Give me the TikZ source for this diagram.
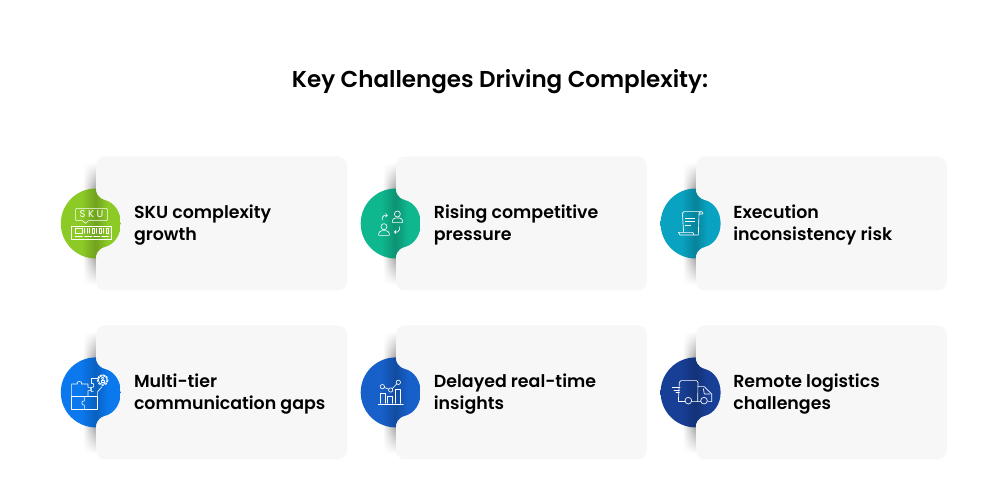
\documentclass[tikz,border=0pt]{standalone}
\usepackage{fontspec}
\setmainfont{Poppins}[BoldFont=Poppins SemiBold]
\usetikzlibrary{chains, calc, positioning, fadings}
\definecolor{cardgrey}{HTML}{F7F7F7}
\definecolor{skugreen}{HTML}{8CCB26}
\definecolor{riseteal}{HTML}{0FB78F}
\definecolor{execcyan}{HTML}{09A3C1}
\definecolor{tierblue}{HTML}{0B78EE}
\definecolor{delayblue}{HTML}{175FC9}
\definecolor{roadnavy}{HTML}{183F96}
\colorlet{tabcolor}{skugreen}
\pgfdeclarehorizontalshading{bandshade}{100bp}{color(0bp)=(white); color(25bp)=(white); color(75bp)=(black!42); color(100bp)=(black!42)}
\pgfdeclarehorizontalshading[tabcolor]{tabshade}{100bp}{color(0bp)=(tabcolor); color(25bp)=(tabcolor); color(42bp)=(tabcolor); color(54bp)=(tabcolor!80!black); color(64bp)=(tabcolor); color(100bp)=(tabcolor)}
\tikzstyle{card} = [rectangle, fill=cardgrey, rounded corners=9pt, minimum width=251pt, minimum height=134pt, inner sep=0pt, on chain]
\tikzstyle{cardtext} = [anchor=west, align=left, inner sep=0pt, font=\fontsize{17.4}{22}\selectfont\bfseries, text=black]
\tikzstyle{icon} = [draw=white, line width=0.65pt, line cap=round, line join=round, fill=none]
\tikzstyle{iconletter} = [text=white, inner sep=0pt, font=\fontsize{10}{10}\selectfont]
% tab with the dark band along the card edge, origin on the west side of a card
\tikzset{
  tab/.pic={
    \colorlet{tabcolor}{#1}
    \shade[shading=bandshade, shading angle=0, path fading=north] (-13,30) rectangle (0,61);
    \shade[shading=bandshade, shading angle=0, path fading=south] (-13,-61) rectangle (0,-30);
    \shade[shading=tabshade, shading angle=0] (0,-35) arc[start angle=-90, delta angle=-180, radius=35]
      .. controls (0,31) and (2,25.5) .. (9,23.5)
      .. controls (19,21) and (25,11) .. (25,0)
      .. controls (25,-11) and (19,-21) .. (9,-23.5)
      .. controls (2,-25.5) and (0,-31) .. (0,-35) -- cycle;
  }
}
\begin{document}
\begin{tikzpicture}[x=1pt,y=1pt,start chain=going right,node distance=48.5pt]
\useasboundingbox (0,0) rectangle (1000,500);
\node[font=\fontsize{23}{28}\selectfont\bfseries, anchor=base] (title) at (500,412) {Key Challenges Driving Complexity:};

\node[card] (sku) at (221.5,276.5) {};
\node[card] (rise) {};
\node[card] (exec) {};
\node[card, below=34.5pt of sku] (tier) {};
\node[card, below=34.5pt of rise] (delay) {};
\node[card, below=34.5pt of exec] (road) {};

\pic at (sku.west) {tab=skugreen};
\pic at (rise.west) {tab=riseteal};
\pic at (exec.west) {tab=execcyan};
\pic at (tier.west) {tab=tierblue};
\pic at (delay.west) {tab=delayblue};
\pic at (road.west) {tab=roadnavy};

\node[cardtext] (skutext) at ([xshift=38pt,yshift=-1.5pt]sku.west) {SKU complexity\\growth};
\node[cardtext] (risetext) at ([xshift=38pt,yshift=-1.5pt]rise.west) {Rising competitive\\pressure};
\node[cardtext] (exectext) at ([xshift=37.5pt,yshift=-1.5pt]exec.west) {Execution\\inconsistency risk};
\node[cardtext] (tiertext) at ([xshift=38pt,yshift=-1.5pt]tier.west) {Multi-tier\\communication gaps};
\node[cardtext] (delaytext) at ([xshift=38pt,yshift=-1.5pt]delay.west) {Delayed real-time\\insights};
\node[cardtext] (roadtext) at ([xshift=37.5pt,yshift=-1.5pt]road.west) {Remote logistics\\challenges};

% icons, in steps of a third of a pixel
\begin{scope}[shift={(50,330)},x=1/3*1pt,y=-1/3*1pt]
\draw[icon] (80,115) -- (169,115) to[bend left=20] (172,118) -- (172,149) to[bend left=20] (169,152) -- (115,152) -- (107,160) -- (97,152) -- (80,152) to[bend left=20] (77,149) -- (77,118) to[bend left=20] cycle;
\node[iconletter] (skuS) at (98,133) {S};
\node[iconletter] (skuK) at (123,133) {K};
\node[iconletter] (skuU) at (150,133) {U};
\draw[icon] (65,168) rectangle (185,208);
\draw[icon] (75,175) rectangle (97,190);
\draw[icon] (104,175) -- (104,190) (111,175) -- (111,190) (118,175) -- (118,190) (126,175) rectangle (133,190) (140,175) -- (140,190) (147,175) rectangle (154,190) (161,175) -- (161,190) (170,175) rectangle (175,190);
\draw[icon] (75,199) -- (97,199) (104,199) -- (126,199) (131,199) -- (150,199) (155,199) -- (175,199);
\end{scope}

\begin{scope}[shift={(350,330)},x=1/3*1pt,y=-1/3*1pt]
\draw[icon] (142,132) circle[radius=9];
\draw[icon] (127,157) -- (127,152) to[bend left=35] (137,144) -- (148,144) to[bend left=35] (158,152) -- (158,157) -- cycle;
\draw[icon] (102,170) circle[radius=9];
\draw[icon] (86,196) -- (86,191) to[bend left=35] (96,182) -- (108,182) to[bend left=35] (118,191) -- (118,196) -- cycle;
\draw[icon] (97,150) -- (97,142) to[bend left=30] (103,136) -- (112,136) (107,131) -- (112,136) -- (107,141);
\draw[icon] (149,170) -- (149,178) to[bend left=30] (143,186) -- (133,186) (138,181) -- (133,186) -- (138,191);
\end{scope}

\begin{scope}[shift={(650,330)},x=1/3*1pt,y=-1/3*1pt]
\draw[icon] (97,130) to[bend left=30] (102,125) -- (155,125) to[bend left=60] (158,132) -- (147,132) (147,130) -- (145,195) -- (90,195) to[bend left=30] (85,187) -- (128,187) to[bend right=20] (132,195);
\draw[icon] (97,130) -- (101,187);
\draw[icon] (147,130) to[bend right=30] (152,125);
\draw[icon] (106,145) -- (134,145) (106,155) -- (134,155) (106,165) -- (122,165);
\end{scope}

\begin{scope}[shift={(50,160)},x=1/3*1pt,y=-1/3*1pt]
\draw[icon] (65,170) -- (65,132) -- (82,132) .. controls (74,122) and (102,122) .. (94,132) -- (114,132) -- (114,142) .. controls (126,137) and (126,157) .. (114,152) -- (114,170);
\draw[icon] (65,170) -- (143,170);
\draw[icon] (65,170) -- (65,208) -- (143,208) -- (143,170);
\draw[icon] (103,170) -- (103,183) .. controls (93,179) and (93,199) .. (103,195) -- (103,208);
\draw[icon] (124,130) -- (124,115) -- (143,115);
\draw[icon] (124,130) .. controls (134,125) and (134,147) .. (124,142) -- (124,155) -- (130,155);
\draw[icon] (143,170) -- (143,155) -- (156,140);
\draw[icon] (158,120) circle[radius=13];
\draw[icon, dash pattern=on 2pt off 1.6pt, line width=1pt] (158,120) circle[radius=16];
\draw[icon] (153,120) rectangle (163,128);
\draw[icon] (158,115) circle[radius=4];
\end{scope}

\begin{scope}[shift={(350,160)},x=1/3*1pt,y=-1/3*1pt]
\draw[icon] (85,192) -- (160,192);
\draw[icon] (92,190) -- (92,160) -- (107,160) -- (107,190);
\draw[icon] (113,190) -- (113,170) -- (128,170) -- (128,190);
\draw[icon] (137,190) -- (137,147) -- (152,147) -- (152,190);
\draw[icon] (97,140) circle[radius=6.5] (122,150) circle[radius=6.5] (145,127) circle[radius=6.5];
\draw[icon] (103,142.5) -- (116,147.5) (127,145.5) -- (140.5,131.5);
\end{scope}

\begin{scope}[shift={(650,160)},x=1/3*1pt,y=-1/3*1pt]
\draw[icon] (87,185) -- (85,185) -- (88,127) to[bend left=30] (93,122) -- (140,122) to[bend left=30] (144,127) -- (143,185) -- (125,185);
\draw[icon] (144,140) -- (163,140) -- (185,162) -- (185,185) -- (173,185) (152,185) -- (143,185);
\draw[icon] (160,146) -- (163,162) -- (180,162);
\draw[icon] (115,182) circle[radius=10] (162,182) circle[radius=10];
\draw[icon] (67,142) -- (90,142) (72,150) -- (88,150) (78,158) -- (88,158);
\draw[icon] (87,185) -- (105,185);
\end{scope}
\end{tikzpicture}
\end{document}
